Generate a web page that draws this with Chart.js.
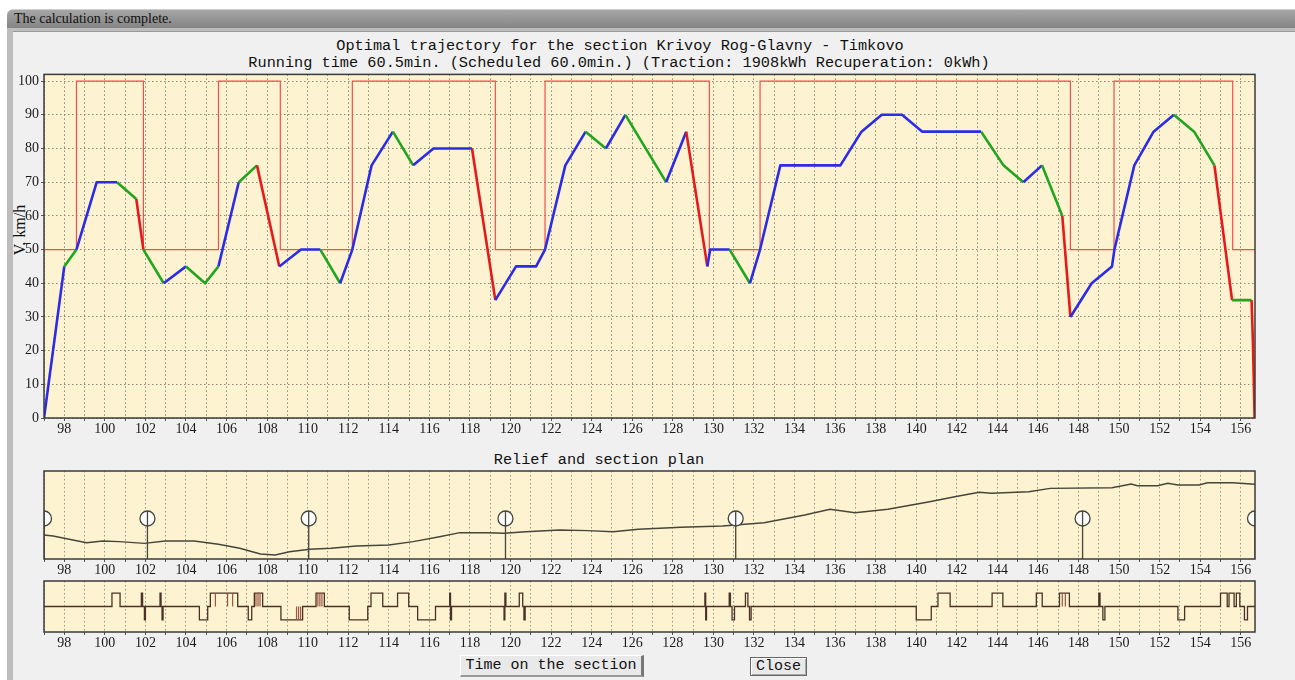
<!DOCTYPE html>
<html>
<head>
<meta charset="utf-8">
<title>Optimal trajectory</title>
<script src="https://cdn.jsdelivr.net/npm/chart.js@4.4.1/dist/chart.umd.min.js"></script>
<style>
  body { margin: 0; width: 1295px; height: 680px; background: #fff; position: relative; overflow: hidden; }
  #titlebar { position: absolute; left: 7px; top: 9px; width: 1288px; height: 19px; box-sizing: border-box;
    background: linear-gradient(#a6a6a6, #848484); border-top: 1px solid #d0d0d0; border-top-left-radius: 6px;
    font: 14px "Liberation Serif", serif; color: #111; line-height: 18px; padding-left: 7px; }
  #frame { position: absolute; left: 7px; top: 28px; width: 1288px; height: 652px; background: #bdbdbd; }
  #panel { position: absolute; left: 13px; top: 31px; width: 1282px; height: 649px; background: #f0f0f0; border-top: 1px solid #999; }
  .mono { position: absolute; font: 15.25px "Liberation Mono", monospace; color: #111; white-space: pre; text-align: center; line-height: 18px; }
  .ytitle { position: absolute; left: -22px; top: 221px; width: 84px; text-align: center; line-height: 18px;
    font: 16px "Liberation Serif", serif; color: #111; transform: rotate(-90deg); }
  canvas { position: absolute; }
  .btn { position: absolute; box-sizing: border-box; font: 15px "Liberation Mono", monospace; color: #111;
    text-align: center; background: #e9e9e9; }
  #btnTime { left: 460px; top: 655px; width: 184px; height: 22px; line-height: 20px;
    border-top: 1px solid #fff; border-left: 1px solid #fff; border-right: 3px solid #777; border-bottom: 2px solid #999; }
  #btnClose { left: 750px; top: 657px; width: 57px; height: 19px; line-height: 17px; border: 1px solid #666;
    box-shadow: inset 1px 1px 0 #fff, inset -1px -1px 0 #aaa; }
</style>
</head>
<body>
<div id="titlebar">The calculation is complete.</div>
<div id="frame"></div>
<div id="panel"></div>
<div class="mono" style="left:0; top:37px; width:1240px;">Optimal trajectory for the section Krivoy Rog-Glavny - Timkovo</div>
<div class="mono" style="left:0; top:54px; width:1238px;">Running time 60.5min. (Scheduled 60.0min.) (Traction: 1908kWh Recuperation: 0kWh)</div>
<div class="ytitle">V, km/h</div>
<canvas id="speedChart" width="1247" height="376" style="left:14px; top:64px;"></canvas>
<div class="mono" style="left:0; top:451px; width:1198px;">Relief and section plan</div>
<canvas id="reliefChart" width="1247" height="110" style="left:14px; top:467px;"></canvas>
<canvas id="modeChart" width="1247" height="73" style="left:14px; top:577px;"></canvas>
<div class="btn" id="btnTime">Time on the section</div>
<div class="btn" id="btnClose">Close</div>

<script>
// time axis, minutes
const axisMin = 97;
const axisMax = 156.7;

// speed trajectory: mode of the segment that starts at each point
// T = traction, C = coasting, B = braking
const speedTime = [97.0, 98.0, 98.6, 99.6, 100.6, 101.55, 101.9, 102.9, 104.0, 104.94, 105.6, 106.6, 107.5, 108.6,
  109.67, 110.62, 111.6, 112.2, 113.15, 114.2, 115.2, 116.2, 118.1, 119.25, 120.27, 121.26, 121.7, 122.7, 123.7,
  124.7, 125.66, 127.67, 128.66, 129.7, 129.84, 130.8, 131.8, 132.3, 133.3, 136.26, 137.3, 138.3, 139.3, 140.3,
  143.2, 144.3, 145.28, 146.2, 147.2, 147.6, 148.65, 149.65, 149.77, 150.75, 151.7, 152.7, 153.7, 154.7, 155.57,
  156.53, 156.6, 156.68];
const speedValue = [0, 45, 50, 70, 70, 65, 50, 40, 45, 40, 45, 70, 75, 45,
  50, 50, 40, 50, 75, 85, 75, 80, 80, 35, 45, 45, 50, 75, 85,
  80, 90, 70, 85, 45, 50, 50, 40, 50, 75, 75, 85, 90, 90, 85,
  85, 75, 70, 75, 60, 30, 40, 45, 50, 75, 85, 90, 85, 75, 35,
  35, 22, 0];
const speedMode = ['T', 'C', 'T', 'T', 'C', 'B', 'C', 'T', 'C', 'C', 'T', 'C', 'B', 'T',
  'T', 'C', 'T', 'T', 'T', 'C', 'T', 'T', 'B', 'T', 'T', 'T', 'T', 'T', 'C',
  'T', 'C', 'T', 'B', 'T', 'T', 'C', 'T', 'T', 'T', 'T', 'T', 'T', 'T', 'T',
  'C', 'C', 'T', 'C', 'B', 'T', 'T', 'T', 'T', 'T', 'T', 'C', 'C', 'B', 'C',
  'B', 'B', 'B'];

// speed limit steps: value valid from each time on
const limitTime = [97, 98.6, 101.9, 105.6, 108.65, 112.2, 119.25, 121.7, 129.8, 132.3, 147.6, 149.75, 155.6, 156.7];
const limitValue = [50, 100, 50, 100, 50, 100, 50, 100, 50, 100, 50, 100, 50, 50];

// relief profile
const reliefKm = [97, 97.45, 99.1, 99.9, 100.7, 101.95, 102.97, 104.4, 105.6, 106.65, 107.67, 108.4, 109.1, 110.1,
  111.15, 112.4, 114.0, 115.2, 116.5, 117.5, 118.8, 119.7, 120.75, 122.4, 123.8, 125.05, 126.3, 128.4, 130.45,
  132.5, 134.5, 135.75, 136.98, 138.6, 140.66, 141.9, 143.1, 143.7, 145.55, 146.6, 149.65, 150.6, 150.9, 151.9,
  152.4, 152.9, 153.95, 154.35, 155.6, 156.7];
const reliefHeight = [27.3, 26.1, 18.5, 20.5, 19.7, 17.8, 20.5, 20.5, 16.7, 12.2, 5.7, 4.5, 8.3, 11.0,
  12.2, 14.8, 15.9, 19.7, 25.3, 29.9, 29.9, 29.2, 31.0, 33.0, 32.2, 31.0, 33.8, 36.0, 37.5,
  41.2, 50.0, 56.5, 52.6, 56.5, 65.1, 70.8, 75.8, 74.7, 76.5, 80.3, 81.0, 85.2, 83.3, 83.3,
  86.0, 84.1, 84.1, 86.7, 86.7, 84.9];

// stations
const stationKm = [97, 102.1, 110.05, 119.75, 131.1, 148.2, 156.7];
const stationMark = 46;

// control mode: level valid from each time on (1 up, 0 neutral, -1 down)
const modeTimes = [97, 100.35, 100.75, 101.8, 101.86, 101.95, 102.0, 102.72, 102.77, 102.82, 102.87,
  104.66, 105.07, 105.2, 106.55, 107.07, 107.24, 107.37, 107.78, 108.68, 109.75, 110.41, 110.82,
  112.05, 112.96, 113.12, 113.7, 114.43, 114.98, 115.42, 116.3, 117.0, 117.04, 117.09,
  119.68, 119.72, 119.77, 120.43, 120.6, 120.66, 120.72, 129.58, 129.62, 129.66,
  130.78, 130.84, 130.92, 131.04, 131.58, 131.7, 131.78, 131.86, 140.0, 140.74, 141.07, 141.67,
  143.74, 144.27, 145.92, 146.21, 147.06, 147.55, 149.0, 149.06, 149.2, 149.3, 152.9, 153.23,
  155.0, 155.33, 155.42, 155.67, 155.78, 155.95, 156.18, 156.33, 156.7];
const modeLevels = [0, 1, 0, 1, 0, -1, 0, 1, 0, -1, 0,
  -1, 0, 1, 0, -1, 0, 1, 0, -1, 0, 1, 0,
  -1, 0, 1, 0, 1, 0, -1, 0, 1, -1, 0,
  -1, 1, 0, 1, 0, -1, 0, 1, -1, 0,
  1, 0, -1, 0, 1, 0, -1, 0, -1, 0, 1, 0,
  1, 0, 1, 0, 1, 0, 1, 0, -1, 0, -1, 0,
  1, 0, 1, 0, 1, 0, -1, 0, 0];
const notchTimes = [105.45, 106.05, 106.3, 107.45, 107.55, 107.65, 109.45, 109.55, 109.65, 110.5, 110.6, 110.7, 147.2, 147.35];
const notchLevels = [1, 1, 1, 1, 1, 1, -1, -1, -1, 1, 1, 1, 1, 1];

const modeColor = { T: '#2b2be8', C: '#1fa51f', B: '#e61a1a' };
const tickFont = { family: 'Liberation Serif', size: 14 };

const plotFrame = {
  id: 'plotFrame',
  beforeDraw(chart) {
    const { ctx, chartArea: a } = chart;
    ctx.save();
    ctx.fillStyle = '#fdf3d1';
    ctx.fillRect(a.left, a.top, a.right - a.left, a.bottom - a.top);
    ctx.restore();
  },
  afterDraw(chart) {
    const { ctx, chartArea: a } = chart;
    ctx.save();
    ctx.strokeStyle = '#3a3a3a';
    ctx.lineWidth = 1.5;
    ctx.strokeRect(a.left, a.top, a.right - a.left, a.bottom - a.top);
    ctx.restore();
  }
};

function timeAxis(height, gridColor) {
  return {
    type: 'linear',
    min: axisMin,
    max: axisMax,
    ticks: {
      stepSize: 1,
      includeBounds: false,
      autoSkip: false,
      maxRotation: 0,
      padding: 0,
      color: '#1a1a1a',
      font: tickFont,
      callback: v => (Number.isInteger(v) && v % 2 === 0) ? String(v) : ''
    },
    grid: { color: gridColor, lineWidth: 1, tickLength: 3, tickColor: '#555' },
    border: { display: false, dash: [1.5, 2.5] },
    afterFit: s => { s.height = height; }
  };
}

function baseOptions(padLeft, padTop) {
  return {
    responsive: false,
    animation: false,
    devicePixelRatio: 1,
    layout: { autoPadding: false, padding: { left: padLeft, top: padTop, right: 6, bottom: 0 } },
    plugins: { legend: { display: false }, title: { display: false }, tooltip: { enabled: false } },
    elements: { point: { radius: 0 }, line: { tension: 0 } }
  };
}

// speed chart
const speedOpts = baseOptions(0, 0);
speedOpts.scales = {
  x: timeAxis(22, '#8d8a7c'),
  y: {
    min: 0,
    max: 102,
    ticks: {
      stepSize: 10,
      includeBounds: false,
      padding: 2,
      color: '#1a1a1a',
      font: tickFont
    },
    grid: { color: '#8d8a7c', tickLength: 3, tickColor: '#555' },
    border: { display: false, dash: [1.5, 2.5] },
    afterFit: s => { s.width = 30; }
  }
};

new Chart(document.getElementById('speedChart'), {
  type: 'line',
  data: {
    datasets: [
      {
        label: 'Speed',
        data: speedTime.map((t, i) => ({ x: t, y: speedValue[i] })),
        borderWidth: 2.6,
        borderColor: modeColor.T,
        segment: { borderColor: c => modeColor[speedMode[c.p0DataIndex]] },
        borderJoinStyle: 'round',
        order: 0
      },
      {
        label: 'Speed limit',
        data: limitTime.map((t, i) => ({ x: t, y: limitValue[i] })),
        stepped: 'before',
        borderWidth: 1.2,
        borderColor: '#ef4f4f',
        order: 1
      }
    ]
  },
  options: speedOpts,
  plugins: [plotFrame]
});

// relief chart
const stemData = [];
stationKm.forEach(k => {
  stemData.push({ x: k, y: 0 }, { x: k, y: stationMark }, { x: k, y: null });
});
const reliefOpts = baseOptions(30, 4);
reliefOpts.scales = {
  x: timeAxis(18, '#9a978a'),
  y: { display: false, min: 0, max: 100 }
};

new Chart(document.getElementById('reliefChart'), {
  type: 'line',
  data: {
    datasets: [
      {
        label: 'Relief',
        data: reliefKm.map((k, i) => ({ x: k, y: reliefHeight[i] })),
        borderColor: '#45453a',
        borderWidth: 1.4,
        order: 3
      },
      {
        label: 'Station stems',
        data: stemData,
        borderColor: '#45453a',
        borderWidth: 1.3,
        order: 2
      },
      {
        label: 'Stations',
        data: stationKm.map(k => ({ x: k, y: stationMark })),
        showLine: false,
        pointStyle: 'circle',
        pointRadius: 7.5,
        pointBackgroundColor: '#ffffff',
        pointBorderColor: '#45453a',
        pointBorderWidth: 1.3,
        clip: 0,
        order: 1
      },
      {
        label: 'Station axes',
        data: stationKm.map(k => ({ x: k, y: stationMark })),
        showLine: false,
        pointStyle: 'line',
        pointRotation: 90,
        pointRadius: 7.5,
        pointBorderColor: '#45453a',
        pointBorderWidth: 1.3,
        clip: 0,
        order: 0
      }
    ]
  },
  options: reliefOpts,
  plugins: [plotFrame]
});

// control mode chart
const notchData = [];
notchTimes.forEach((t, i) => {
  notchData.push({ x: t, y: 0 }, { x: t, y: notchLevels[i] }, { x: t, y: null });
});
const modeOpts = baseOptions(30, 4);
modeOpts.scales = {
  x: timeAxis(18, '#9a978a'),
  y: { display: false, min: -1.9, max: 1.9 }
};

new Chart(document.getElementById('modeChart'), {
  type: 'line',
  data: {
    datasets: [
      {
        label: 'Mode',
        data: modeTimes.map((t, i) => ({ x: t, y: modeLevels[i] })),
        stepped: 'before',
        borderColor: '#4a3226',
        borderWidth: 1.3,
        order: 1
      },
      {
        label: 'Notches',
        data: notchData,
        borderColor: '#9b5443',
        borderWidth: 1.2,
        order: 0
      }
    ]
  },
  options: modeOpts,
  plugins: [plotFrame]
});
</script>
</body>
</html>
